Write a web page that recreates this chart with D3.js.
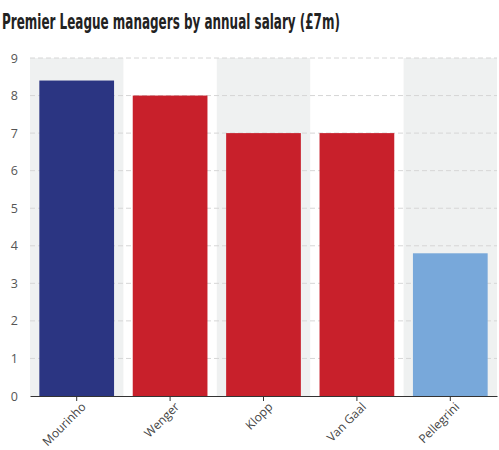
<!DOCTYPE html>
<html><head><meta charset="utf-8">
<script src="https://cdn.jsdelivr.net/npm/d3@7"></script>
<style>body{margin:0;background:#fff}</style>
</head><body>
<svg id="c" width="499" height="450"></svg>
<script>
const managers = ["Mourinho","Wenger","Klopp","Van Gaal","Pellegrini"];
const salaries = [8.4, 8, 7, 7, 3.8];
const barColors = ["#2b3582","#c8202b","#c8202b","#c8202b","#78a8da"];
const yTicks = [0,1,2,3,4,5,6,7,8,9];
const title = "Premier League managers by annual salary (£7m)";

const svg = d3.select("#c");
const m = {l:30, r:2, t:58, b:54};
const W = 499, H = 450;
const x = d3.scaleBand().domain(managers).range([m.l, W-m.r]).paddingInner(0.2).paddingOuter(0.1);
const y = d3.scaleLinear().domain([0,9]).range([H-m.b, m.t]);

const tt = svg.append("text").attr("x",0).attr("y",0).text(title)
  .attr("font-family","'DejaVu Sans Condensed','DejaVu Sans',sans-serif")
  .attr("font-weight","bold").attr("font-size",21).attr("fill","#222");
const natW = tt.node().getComputedTextLength();
tt.attr("transform", `translate(2,29) scale(${338/natW},1)`);

// alternating bands
const step = x.step();
svg.append("g").selectAll("rect").data(managers.filter((d,i)=>i%2===0)).join("rect")
  .attr("x", d=>x(d)+x.bandwidth()/2-step/2).attr("width", step)
  .attr("y", y(9)).attr("height", y(0)-y(9)).attr("fill","#eff1f1");

// grid
svg.append("g").selectAll("line").data(yTicks.filter(t=>t>0)).join("line")
  .attr("x1", m.l).attr("x2", W-m.r).attr("y1", d=>y(d)).attr("y2", d=>y(d))
  .attr("stroke","#d6d6d6").attr("stroke-dasharray","5,3").attr("stroke-width",1);

// bars
svg.append("g").selectAll("rect").data(managers).join("rect")
  .attr("x", d=>x(d)).attr("width", x.bandwidth())
  .attr("y", (d,i)=>y(salaries[i])).attr("height", (d,i)=>y(0)-y(salaries[i]))
  .attr("fill", (d,i)=>barColors[i]);

// y axis labels
const ya = svg.append("g").attr("transform",`translate(${m.l},0)`)
  .call(d3.axisLeft(y).tickValues(yTicks).tickSize(0).tickPadding(12).tickFormat(d3.format("d")));
ya.select(".domain").remove();
ya.selectAll("text").attr("font-family","'Open Sans',sans-serif").attr("font-size",12.5).attr("fill","#555");

// x axis
const xa = svg.append("g").attr("transform",`translate(0,${y(0)})`)
  .call(d3.axisBottom(x).tickSize(5).tickSizeOuter(0));
xa.select(".domain").attr("stroke","#333");
xa.selectAll(".tick line").attr("stroke","#333");
xa.selectAll("text").attr("font-family","'Open Sans',sans-serif").attr("font-size",12).attr("fill","#444")
  .attr("text-anchor","end").attr("dx","-0.1em").attr("dy","0.6em").attr("transform","rotate(-45)");
</script>
</body></html>
